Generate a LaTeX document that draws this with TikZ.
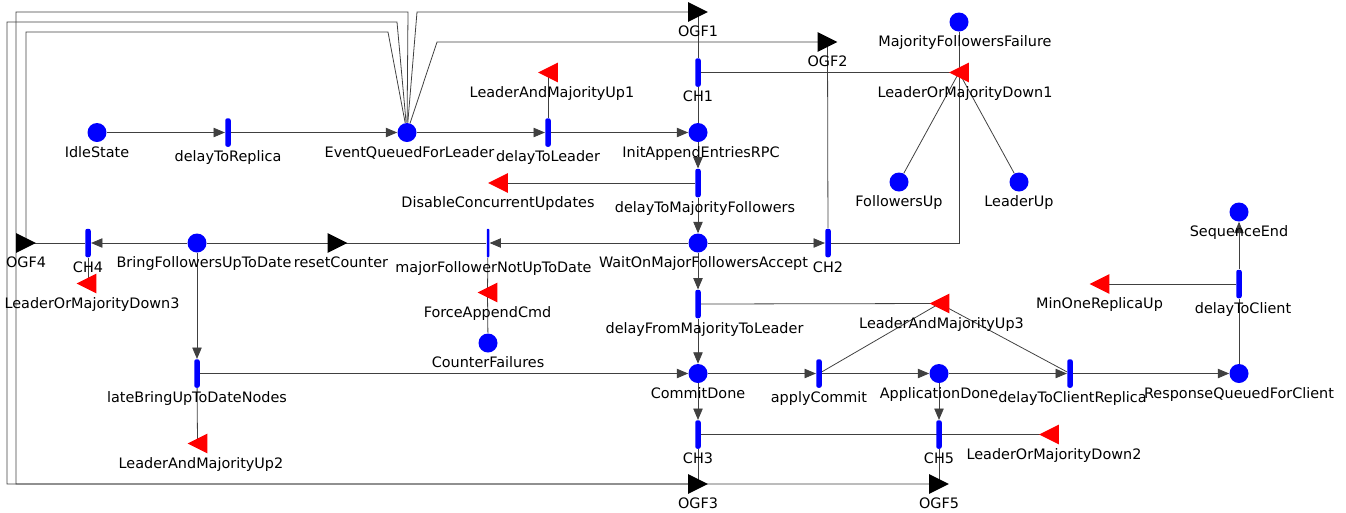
\documentclass[tikz,border=0pt]{standalone}
\usepackage{fontspec}
\setmainfont{DejaVu Sans}
\usetikzlibrary{arrows,backgrounds}

\tikzstyle{place} = [circle, fill=blue, minimum size=0.38cm, inner sep=0pt]
\tikzstyle{activity} = [rectangle, rounded corners=1.2pt, fill=blue, minimum width=0.11cm, minimum height=0.57cm, inner sep=0pt]
\tikzstyle{thinact} = [activity, minimum width=0.05cm, rounded corners=0.5pt]
\tikzstyle{gatebox} = [rectangle, minimum size=0.38cm, inner sep=0pt]
\tikzstyle{wire} = [black!75, line width=0.45pt]
\tikzstyle{arrow} = [wire,->,>=triangle 45]

\begin{document}
\begin{tikzpicture}[x=0.02cm, y=-0.02cm, font=\fontsize{8.2}{9.8}\selectfont, label distance=0.07cm, every label/.append style={inner sep=0pt}]
\useasboundingbox (0,0) rectangle (1346,512);

% places
\node (idle) [place, label=below:IdleState] at (97,132.5) {};
\node (eq) [place, label={[xshift=0.05cm]below:EventQueuedForLeader}] at (407,132.5) {};
\node (iae) [place, label={[xshift=0.06cm]below:InitAppendEntriesRPC}] at (698,132.5) {};
\node (mff) [place, label={[xshift=0.12cm]below:MajorityFollowersFailure}] at (959,22) {};
\node (fu) [place, label=below:FollowersUp] at (899,182) {};
\node (lu) [place, label=below:LeaderUp] at (1019,182) {};
\node (send) [place, label=below:SequenceEnd] at (1239,212) {};
\node (bring) [place, label={[xshift=0.14cm]below:BringFollowersUpToDate}] at (197,243) {};
\node (wait) [place, label={[xshift=0.11cm]below:WaitOnMajorFollowersAccept}] at (698,243) {};
\node (cf) [place, label=below:CounterFailures] at (488,343) {};
\node (cd) [place, label=below:CommitDone] at (698,373.5) {};
\node (ad) [place, label=below:ApplicationDone] at (939,373.5) {};
\node (rqc) [place, label=below:ResponseQueuedForClient] at (1239,373.5) {};

% activities
\node (dtr) [activity, label=below:delayToReplica] at (228,132.5) {};
\node (dtl) [activity, label=below:delayToLeader] at (548,132.5) {};
\node (ch1) [activity, label=below:CH1] at (698,72.5) {};
\node (dtmf) [activity, label={[xshift=0.14cm]below:delayToMajorityFollowers}] at (698,183) {};
\node (ch2) [activity, label=below:CH2] at (828,243) {};
\node (ch4) [activity, label=below:CH4] at (88,243) {};
\node (mfnu) [thinact, label={[xshift=0.11cm]below:majorFollowerNotUpToDate}] at (488,243) {};
\node (dfml) [activity, label={[xshift=0.13cm]below:delayFromMajorityToLeader}] at (698,304) {};
\node (lbn) [activity, label=below:lateBringUpToDateNodes] at (197,373.5) {};
\node (ac) [activity, label=below:applyCommit] at (819,373.5) {};
\node (dtcr) [activity, label={[xshift=0.05cm]below:delayToClientReplica}] at (1070,373.5) {};
\node (ch3) [activity, label=below:CH3] at (698,434.5) {};
\node (ch5) [activity, label=below:CH5] at (939,434.5) {};
\node (dtc) [activity, label={[xshift=0.08cm]below:delayToClient}] at (1239,284) {};

% input gates
\node (lamu1) [gatebox, label={[xshift=0.08cm]below:LeaderAndMajorityUp1}] at (548,72.5) {};
\node (lomd1) [gatebox, label={[xshift=0.12cm]below:LeaderOrMajorityDown1}] at (959,72.5) {};
\node (dcu) [gatebox, label=below:DisableConcurrentUpdates] at (498,183) {};
\node (lomd3) [gatebox, label={[xshift=0.11cm]below:LeaderOrMajorityDown3}] at (86.5,283.5) {};
\node (fac) [gatebox, label=below:ForceAppendCmd] at (487.5,292.5) {};
\node (moru) [gatebox, label=below:MinOneReplicaUp] at (1099.5,284) {};
\node (lamu3) [gatebox, label={[xshift=0.04cm]below:LeaderAndMajorityUp3}] at (939.5,303.5) {};
\node (lamu2) [gatebox, label={[xshift=0.07cm]below:LeaderAndMajorityUp2}] at (197.5,443.5) {};
\node (lomd2) [gatebox, label={[xshift=0.1cm]below:LeaderOrMajorityDown2}] at (1049,434.5) {};

% output gates
\node (ogf1) [gatebox, label=below:OGF1] at (698,12) {};
\node (ogf2) [gatebox, label=below:OGF2] at (827.5,42) {};
\node (ogf4) [gatebox, label=below:OGF4] at (26,243) {};
\node (reset) [gatebox, label={[xshift=0.07cm]below:resetCounter}] at (337.5,243) {};
\node (ogf3) [gatebox, label=below:OGF3] at (698,484) {};
\node (ogf5) [gatebox, label=below:OGF5] at (939,484) {};

\foreach \g in {lamu1,lomd1,dcu,lomd3,fac,moru,lamu3,lamu2,lomd2}
  \fill[red] (\g.west) -- (\g.north east) -- (\g.south east) -- cycle;
\foreach \g in {ogf1,ogf2,ogf4,reset,ogf3,ogf5}
  \fill (\g.east) -- (\g.north west) -- (\g.south west) -- cycle;

\begin{scope}[on background layer]
% input arcs and output arcs
\draw [arrow] (idle) -- (dtr);
\draw [arrow] (dtr) -- (eq);
\draw [arrow] (eq) -- (dtl);
\draw [arrow] (dtl) -- (iae);
\draw [arrow] (iae) -- (dtmf);
\draw [arrow] (dtmf) -- (wait);
\draw [arrow] (wait) -- (ch2);
\draw [arrow] (wait) -- (mfnu);
\draw [arrow] (wait) -- (dfml);
\draw [arrow] (dfml) -- (cd);
\draw [arrow] (bring) -- (ch4);
\draw [arrow] (bring) -- (lbn);
\draw [arrow] (lbn) -- (cd);
\draw [arrow] (cd) -- (ac);
\draw [arrow] (ac) -- (ad);
\draw [arrow] (cd) -- (ch3);
\draw [arrow] (ad) -- (ch5);
\draw [arrow] (ad) -- (dtcr);
\draw [arrow] (dtcr) -- (rqc);
\draw [arrow] (dtc) -- (send);

% gate links
\draw [wire] (iae) -- (ch1);
\draw [wire] (ch1) -- (ogf1.center);
\draw [wire] (ch1) -- (lomd1.center);
\draw [wire] (mff) -- (lomd1.center);
\draw [wire] (fu) -- (lomd1.center);
\draw [wire] (lu) -- (lomd1.center);
\draw [wire] (ch2) -- (ch2 -| lomd1) -- (lomd1.center);
\draw [wire] (ch2) -- (ogf2.center);
\draw [wire] (dtl) -- (lamu1.center);
\draw [wire] (dtmf) -- (dcu.center);
\draw [wire] (ch4) -- (ogf4.center);
\draw [wire] (ch4.south) -- (ch4.south |- lomd3.center);
\draw [wire] (bring) -- (reset.center);
\draw [wire] (mfnu) -- (reset.center);
\draw [wire] (mfnu) -- (fac.center);
\draw [wire] (cf) -- (fac.center);
\draw [wire] (lbn) -- (lamu2.center);
\draw [wire] (dfml) -- (lamu3.center);
\draw [wire] (ac) -- (lamu3.center);
\draw [wire] (dtcr) -- (lamu3.center);
\draw [wire] (ch3) -- (ogf3.center);
\draw [wire] (ch3) -- (lomd2.center);
\draw [wire] (ch5) -- (lomd2.center);
\draw [wire] (ch5) -- (ogf5.center);
\draw [wire] (rqc) -- (dtc);
\draw [wire] (dtc) -- (moru.center);

% output gates back into EventQueuedForLeader
\draw [wire] (ogf1.center) -- (417,12) -- (eq);
\draw [wire] (ogf2.center) -- (437,42) -- (eq);
\draw [wire] (ogf4.center) -- (26,32) -- (388,32) -- (eq);
\draw [wire] (ogf3.center) -- (16,484) -- (16,12) -- (408,12) -- (eq);
\draw [wire] (ogf5.center) -- (7,484) -- (7,22) -- (397,22) -- (eq);
\end{scope}

\end{tikzpicture}
\end{document}
